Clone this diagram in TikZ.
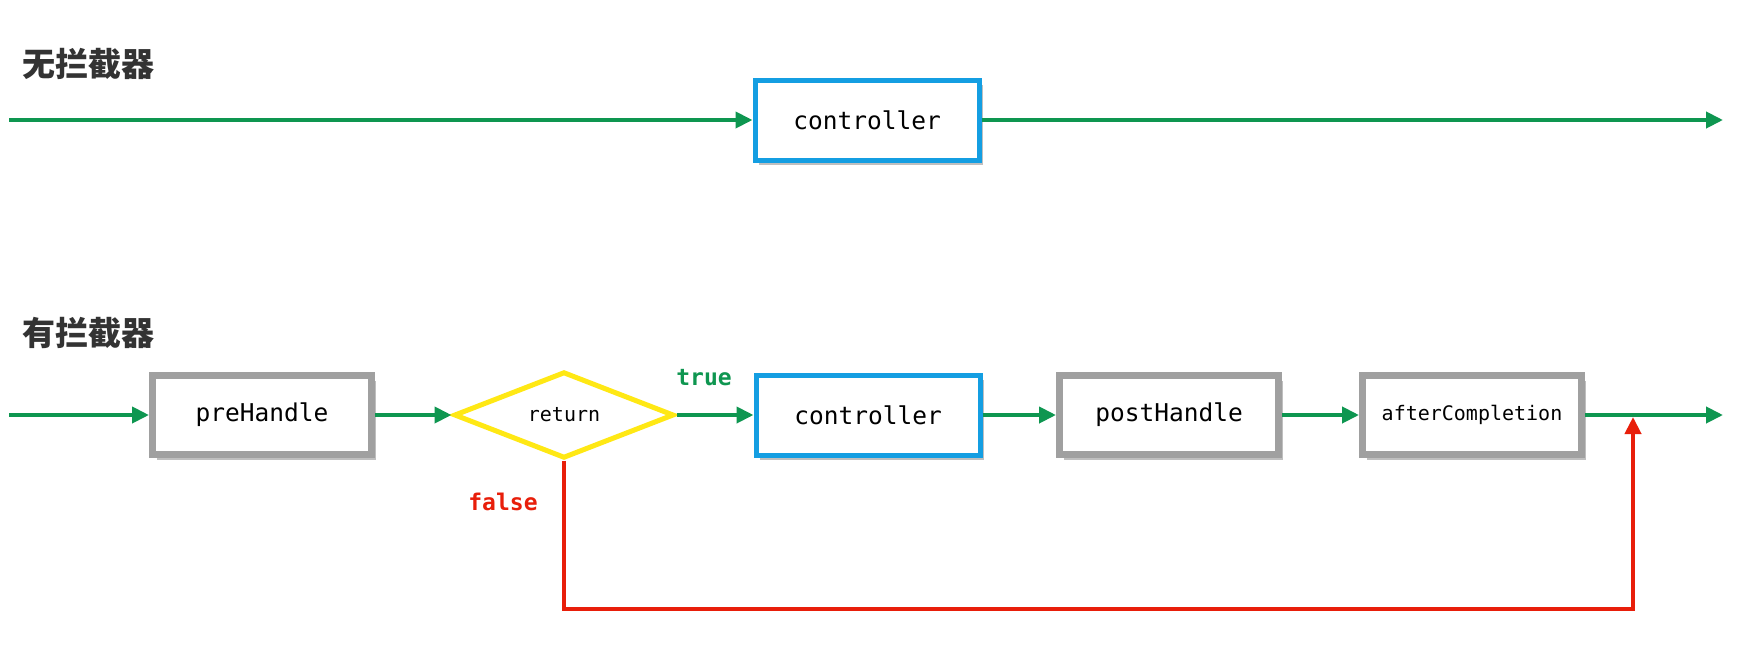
\documentclass[tikz,border=0pt]{standalone}
\usepackage{fontspec}
\setmonofont{DejaVu Sans Mono}
\newfontfamily\cjk{Noto Sans CJK SC}
\usetikzlibrary{arrows.meta,shapes.geometric,shadows}
\definecolor{flowgreen}{RGB}{14,150,80}
\definecolor{boxblue}{RGB}{20,158,226}
\definecolor{boxgray}{RGB}{160,160,160}
\definecolor{diayellow}{RGB}{255,232,20}
\definecolor{backred}{RGB}{232,30,10}
\definecolor{headgray}{RGB}{51,51,51}
\tikzset{
  heading/.style={anchor=west, font=\cjk\bfseries\fontsize{33}{33}\selectfont, text=headgray, inner sep=0pt},
  boxshadow/.style={drop shadow={shadow xshift=4pt, shadow yshift=-5pt, opacity=0.25, fill=black}},
  ctrlbox/.style={draw=boxblue, line width=5pt, fill=white, minimum width=224pt, minimum height=80pt, inner sep=0pt, font=\ttfamily\fontsize{24.5}{24.5}\selectfont, boxshadow},
  graybox/.style={draw=boxgray, line width=7pt, fill=white, minimum width=219pt, minimum height=79pt, inner sep=0pt, font=\ttfamily\fontsize{24.5}{24.5}\selectfont, boxshadow},
  smallbox/.style={graybox, font=\ttfamily\fontsize{20}{20}\selectfont},
  decision/.style={diamond, draw=diayellow, line width=5pt, fill=white, minimum width=220pt, minimum height=80pt, inner sep=0pt, font=\ttfamily\fontsize{20}{20}\selectfont},
  flow/.style={draw=flowgreen, line width=4pt, -{Triangle[length=17pt,width=16pt]}},
  back/.style={draw=backred, line width=4pt, -{Triangle[length=17pt,width=16pt]}},
  lbl/.style={font=\ttfamily\bfseries\fontsize{23}{23}\selectfont, inner sep=0pt}
}
\begin{document}
\begin{tikzpicture}[x=1pt,y=-1pt]
\useasboundingbox[fill=white] (0,0) rectangle (1745,651);
% top row
\node[heading] (h1) at (22,64) {无拦截器};
\coordinate (ts) at (9,120);
\node[ctrlbox] (c1) at (867,120) {controller};
\coordinate (te) at (1723,120);
\draw[flow] (ts) -- (c1.west);
\draw[flow] (c1.east) -- (te);
% bottom row
\node[heading] (h2) at (22,333) {有拦截器};
\coordinate (bs) at (9,415);
\node[graybox] (pre) at (262,415) {preHandle};
\node[decision] (dia) at (564,415) {return};
\node[ctrlbox] (c2) at (868,415) {controller};
\node[graybox] (post) at (1169,415) {postHandle};
\node[smallbox] (after) at (1472,415) {afterCompletion};
\coordinate (be) at (1723,415);
\coordinate (rb) at (564,609);
\coordinate (rc) at (1633,609);
\coordinate (rt) at (1633,417);
\draw[flow] (bs) -- (pre.west);
\draw[flow] (pre.east) -- (dia.west);
\draw[flow] (dia.east) -- (c2.west);
\draw[flow] (c2.east) -- (post.west);
\draw[flow] (post.east) -- (after.west);
\draw[flow] (after.east) -- (be);
\draw[back] (dia.south) -- (rb) -- (rc) -- (rt);
\node[lbl, text=flowgreen] (tl) at (704,378) {true};
\node[lbl, text=backred] (fl) at (503,502) {false};
\end{tikzpicture}
\end{document}
